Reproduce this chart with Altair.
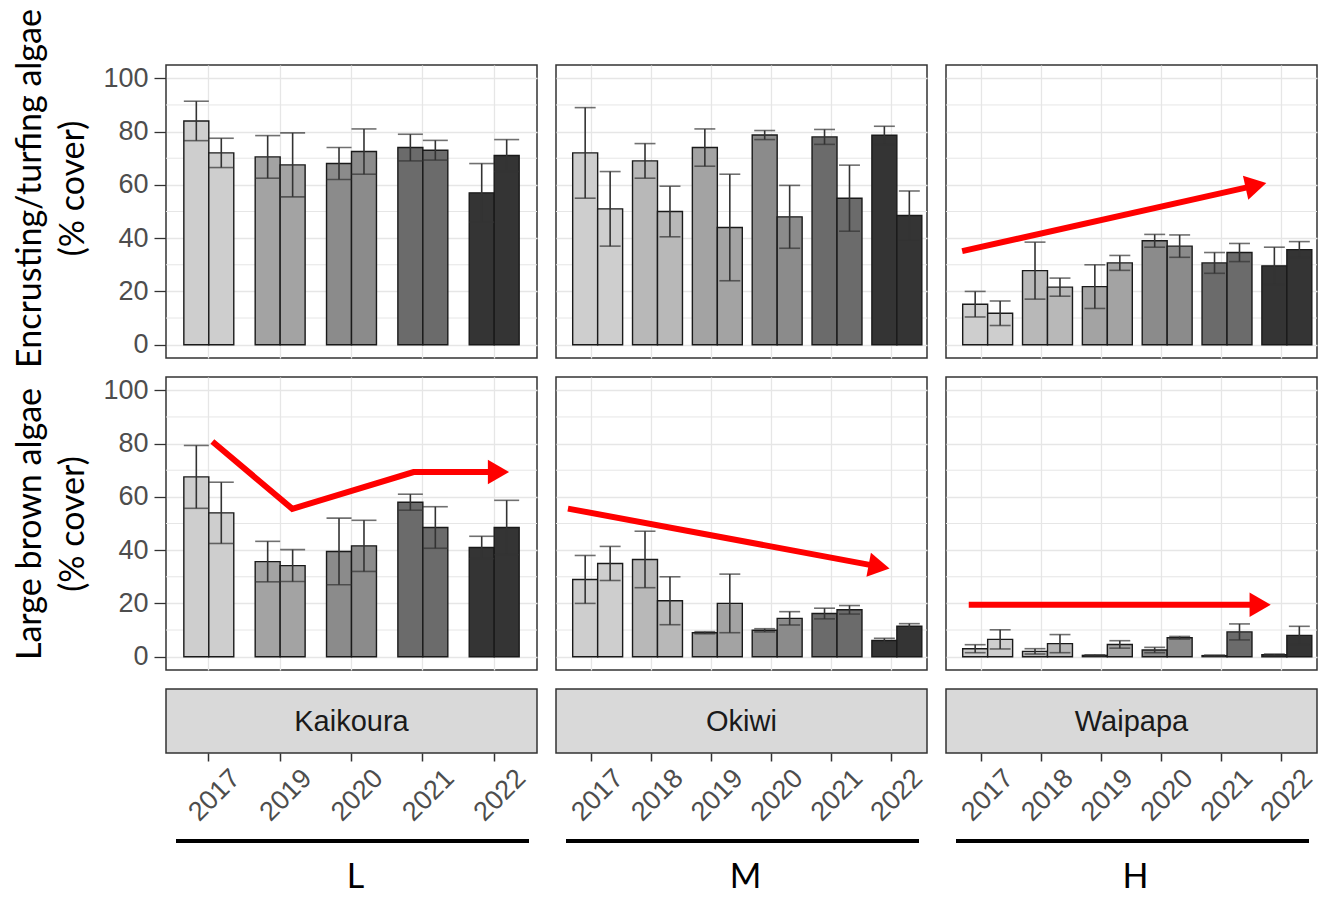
import math
import altair as alt
import pandas as pd

# ---- data -----------------------------------------------------------------
SITES = ["Kaikoura", "Okiwi", "Waipapa"]
EXPOSURE = ["L", "M", "H"]

YEARS_KAIKOURA = ["2017", "2019", "2020", "2021", "2022"]
YEARS_OKIWI = ["2017", "2018", "2019", "2020", "2021", "2022"]
YEARS_WAIPAPA = ["2017", "2018", "2019", "2020", "2021", "2022"]

SHADE_YEARS = ["2017", "2018", "2019", "2020", "2021", "2022"]
SHADE_COLORS = ["#cecece", "#b8b8b8", "#a3a3a3", "#8b8b8b", "#6b6b6b", "#343434"]

# mean cover (%) and standard error, two bars per survey year
TURF_KAIKOURA_MEAN = [[84, 72], [70.5, 67.5], [68, 72.5], [74, 73], [57, 71]]
TURF_KAIKOURA_SE = [[7.4, 5.5], [8, 12], [6, 8.5], [5, 3.7], [11, 6]]
TURF_OKIWI_MEAN = [[72, 51], [69, 50], [74, 44], [78.7, 48], [78, 55], [78.6, 48.5]]
TURF_OKIWI_SE = [[17, 14], [6.5, 9.5], [7, 20], [1.7, 11.8], [2.8, 12.4], [3.4, 9.2]]
TURF_WAIPAPA_MEAN = [[15.2, 11.8], [27.8, 21.6], [21.8, 30.7], [39, 37], [30.7, 34.6], [29.6, 35.7]]
TURF_WAIPAPA_SE = [[4.8, 4.6], [10.7, 3.4], [8.2, 2.8], [2.4, 4.2], [3.9, 3.4], [7, 3]]

BROWN_KAIKOURA_MEAN = [[67.5, 54], [35.7, 34.2], [39.5, 41.6], [58, 48.5], [41, 48.5]]
BROWN_KAIKOURA_SE = [[11.8, 11.5], [7.6, 6], [12.5, 9.6], [3, 7.8], [4.2, 10.2]]
BROWN_OKIWI_MEAN = [[29, 35], [36.5, 21], [9, 20], [9.9, 14.4], [16.2, 17.6], [6.1, 11.4]]
BROWN_OKIWI_SE = [[9, 6.4], [10.6, 9], [0.4, 11], [0.6, 2.5], [2, 1.6], [0.8, 1]]
BROWN_WAIPAPA_MEAN = [[3, 6.5], [2, 4.9], [0.5, 4.6], [2.5, 7.1], [0.4, 9.3], [0.7, 8]]
BROWN_WAIPAPA_SE = [[1.5, 3.6], [1, 3.4], [0.2, 1.4], [1, 0.5], [0.2, 3], [0.3, 3.4]]

# trend arrows: vertices in (year position, % cover); the last vertex is the head
ARROW_TURF_WAIPAPA_X = [0.67, 5.58]
ARROW_TURF_WAIPAPA_Y = [35.1, 59.8]
ARROW_BROWN_KAIKOURA_X = [1.05, 2.17, 3.87, 5.06]
ARROW_BROWN_KAIKOURA_Y = [80.8, 55.5, 69.3, 69.3]
ARROW_BROWN_OKIWI_X = [0.6, 5.8]
ARROW_BROWN_OKIWI_Y = [55.6, 33.8]
ARROW_BROWN_WAIPAPA_X = [0.78, 5.65]
ARROW_BROWN_WAIPAPA_Y = [19.5, 19.5]

Y_MAJOR = [0, 20, 40, 60, 80, 100]
Y_MINOR = [10, 30, 50, 70, 90]

# ---- layout / style -------------------------------------------------------
PANEL_W = 371
PANEL_H = 293
STRIP_H = 64
Y_DOMAIN = [-5, 105]
GRID = "#e6e6e6"
INK = "#333333"
LABEL_GREY = "#4d4d4d"
SANS = "Liberation Sans"
TITLE_FONT = "Lato"
BAR_FRACTION = 0.7

color_scale = alt.Scale(domain=SHADE_YEARS, range=SHADE_COLORS)


def year_scale(years):
    return alt.Scale(domain=years, paddingInner=0, paddingOuter=0.1)


def panel(years, means, ses, arrow_x=None, arrow_y=None, title=None, title_y=None):
    rows = []
    for yr, m, s in zip(years, means, ses):
        for j in range(2):
            rows.append({"year": yr, "pair": str(j + 1), "mean": m[j], "se": s[j]})
    df = pd.DataFrame(rows)
    n = len(years)
    step = PANEL_W / (n + 0.2)
    bar_w = step * BAR_FRACTION / 2

    if title is not None:
        axis_kw = dict(
            values=Y_MAJOR, grid=True, gridColor=GRID, gridWidth=1.3,
            labelFont=SANS, labelFontSize=27, labelColor=LABEL_GREY, labelPadding=6,
            tickColor=INK, tickSize=12, tickWidth=1.3, domain=False,
            title=title, titleFont=TITLE_FONT, titleFontSize=34, titleFontWeight="normal",
            titleColor="black", titleLineHeight=43, titlePadding=12,
        )
        if title_y is not None:
            axis_kw["titleY"] = title_y
        y_axis = alt.Axis(**axis_kw)
    else:
        y_axis = alt.Axis(values=Y_MAJOR, grid=True, gridColor=GRID, gridWidth=1.3,
                          labels=False, ticks=False, domain=False, title=None)

    y_scale = alt.Scale(domain=Y_DOMAIN, nice=False, zero=False)
    x = alt.X("year:N", sort=years, scale=year_scale(years),
              axis=alt.Axis(grid=True, gridColor=GRID, gridWidth=1.3, labels=False,
                            ticks=False, domain=False, title=None))
    xo = alt.XOffset("pair:N", scale=alt.Scale(paddingInner=0, paddingOuter=0.4286))

    minor = alt.Chart(pd.DataFrame({"v": Y_MINOR})).mark_rule(
        color=GRID, strokeWidth=1).encode(y=alt.Y("v:Q", scale=y_scale, axis=y_axis))

    base = alt.Chart(df).transform_calculate(
        low="datum.mean - datum.se", high="datum.mean + datum.se")

    bars = base.mark_bar(stroke="#1a1a1a", strokeWidth=1.4, opacity=1).encode(
        x=x, xOffset=xo,
        y=alt.Y("mean:Q", scale=y_scale), y2=alt.datum(0),
        fill=alt.Fill("year:N", scale=color_scale, legend=None),
    )
    stems = base.mark_rule(color=INK, strokeWidth=1.6).encode(
        x=x, xOffset=xo, y="low:Q", y2="high:Q")
    cap_lo = base.mark_tick(color=INK, thickness=1.6, size=bar_w, orient="horizontal").encode(
        x=x, xOffset=xo, y="low:Q")
    cap_hi = base.mark_tick(color=INK, thickness=1.6, size=bar_w, orient="horizontal").encode(
        x=x, xOffset=xo, y="high:Q")

    layers = [minor, bars, stems, cap_lo, cap_hi]
    chart = alt.layer(*layers)

    if arrow_x is not None:
        adf = pd.DataFrame({"i": list(range(len(arrow_x))), "px": arrow_x, "cover": arrow_y})
        ax_scale = alt.Scale(domain=[0.4, n + 0.6], nice=False, zero=False)
        # rotate the head along the last segment, in screen space
        dx = (arrow_x[-1] - arrow_x[-2]) / (n + 0.2) * PANEL_W
        dy = (arrow_y[-1] - arrow_y[-2]) / (Y_DOMAIN[1] - Y_DOMAIN[0]) * PANEL_H
        head_angle = (-math.degrees(math.atan2(dy, dx))) % 360
        line = alt.Chart(adf).mark_line(color="#ff0000", strokeWidth=6, strokeJoin="miter").encode(
            x=alt.X("px:Q", scale=ax_scale, axis=None),
            y=alt.Y("cover:Q", scale=y_scale),
            order="i:Q",
        )
        head = alt.Chart(adf.tail(1)).mark_point(
            shape="triangle-right", filled=True, color="#ff0000", opacity=1,
            size=600, angle=head_angle, strokeWidth=0,
        ).encode(
            x=alt.X("px:Q", scale=ax_scale, axis=None),
            y=alt.Y("cover:Q", scale=y_scale),
        )
        chart = alt.layer(alt.layer(*layers), line, head).resolve_scale(x="independent")

    return chart.properties(width=PANEL_W, height=PANEL_H)


def strip(site, years, exposure):
    axis = alt.Axis(
        orient="bottom", domain=False, tickColor=INK, tickSize=8, tickWidth=1.5,
        labelAngle=-45, labelAlign="center", labelBaseline="middle", labelPadding=34,
        labelOffset=6, labelFont=SANS, labelFontSize=27, labelColor=LABEL_GREY, title=None,
    )
    ticks = alt.Chart(pd.DataFrame({"year": years})).mark_tick(opacity=0).encode(
        x=alt.X("year:N", sort=years, scale=year_scale(years), axis=axis))
    name = alt.Chart(pd.DataFrame({"site": [site]})).mark_text(
        font=SANS, fontSize=29, color="#1a1a1a").encode(
        text="site:N", x=alt.value(PANEL_W / 2), y=alt.value(STRIP_H / 2 + 1))
    bar = alt.Chart(pd.DataFrame({"e": [exposure]})).mark_rule(
        color="black", strokeWidth=4).encode(
        x=alt.value(10), x2=alt.value(PANEL_W - 8), y=alt.value(STRIP_H + 88))
    label = alt.Chart(pd.DataFrame({"e": [exposure]})).mark_text(
        font=TITLE_FONT, fontSize=34, color="black").encode(
        text="e:N", x=alt.value(PANEL_W / 2 + 4), y=alt.value(STRIP_H + 125))
    return alt.layer(ticks, name, bar, label).properties(
        width=PANEL_W, height=STRIP_H,
        view=alt.ViewBackground(fill="#d9d9d9", stroke=INK, strokeWidth=1.5),
    )


TURF_TITLE = ["Encrusting/turfing algae", "(% cover)"]
BROWN_TITLE = ["Large brown algae", "(% cover)"]

cells = [
    panel(YEARS_KAIKOURA, TURF_KAIKOURA_MEAN, TURF_KAIKOURA_SE, title=TURF_TITLE, title_y=123),
    panel(YEARS_OKIWI, TURF_OKIWI_MEAN, TURF_OKIWI_SE),
    panel(YEARS_WAIPAPA, TURF_WAIPAPA_MEAN, TURF_WAIPAPA_SE,
          ARROW_TURF_WAIPAPA_X, ARROW_TURF_WAIPAPA_Y),
    panel(YEARS_KAIKOURA, BROWN_KAIKOURA_MEAN, BROWN_KAIKOURA_SE,
          ARROW_BROWN_KAIKOURA_X, ARROW_BROWN_KAIKOURA_Y, title=BROWN_TITLE),
    panel(YEARS_OKIWI, BROWN_OKIWI_MEAN, BROWN_OKIWI_SE,
          ARROW_BROWN_OKIWI_X, ARROW_BROWN_OKIWI_Y),
    panel(YEARS_WAIPAPA, BROWN_WAIPAPA_MEAN, BROWN_WAIPAPA_SE,
          ARROW_BROWN_WAIPAPA_X, ARROW_BROWN_WAIPAPA_Y),
    strip(SITES[0], YEARS_KAIKOURA, EXPOSURE[0]),
    strip(SITES[1], YEARS_OKIWI, EXPOSURE[1]),
    strip(SITES[2], YEARS_WAIPAPA, EXPOSURE[2]),
]

chart = alt.concat(
    *cells, columns=3, bounds="flush", spacing=alt.RowColnumber(row=19, column=19)
).properties(
    padding={"left": 13, "top": 7, "right": 2, "bottom": 0},
    background="white",
).configure_view(
    stroke=INK, strokeWidth=1.5,
)

chart.save("out.html", embed_options={"renderer": "svg", "actions": False})
